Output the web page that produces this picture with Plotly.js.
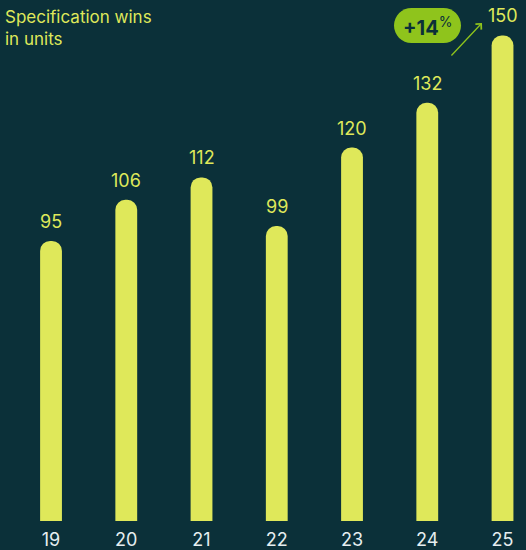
<!DOCTYPE html>
<html><head><meta charset="utf-8">
<script src="https://cdn.plot.ly/plotly-3.0.1.min.js"></script>
<style>html,body{margin:0;padding:0;background:#0b3039;}</style>
</head><body>
<div id="chart" style="width:526px;height:550px;"></div>
<script>
const years = ["19","20","21","22","23","24","25"];
const wins = [95,106,112,99,120,132,150];
const badgeText = "<b>+14</b><sup>%</sup>";
const titleText = "Specification wins<br>in units";

const W = 526, H = 550, B = 521;
const bg = "#0b3039", barColor = "#dfe85a", green = "#8fc41c";
const FONT = "Inter, 'Open Sans', sans-serif";
const px = x => x / W;
const py = y => (B - y) / B;

function pill(x0, x1, y0, y1) {
  const r = (y1 - y0) / 2, k = 0.5523 * r;
  const P = (x, y) => px(x).toFixed(5) + "," + py(y).toFixed(5);
  return "M" + P(x0 + r, y0) + " L" + P(x1 - r, y0) +
    " C" + P(x1 - r + k, y0) + " " + P(x1, y0 + r - k) + " " + P(x1, y0 + r) +
    " C" + P(x1, y0 + r + k) + " " + P(x1 - r + k, y1) + " " + P(x1 - r, y1) +
    " L" + P(x0 + r, y1) +
    " C" + P(x0 + r - k, y1) + " " + P(x0, y0 + r + k) + " " + P(x0, y0 + r) +
    " C" + P(x0, y0 + r - k) + " " + P(x0 + r - k, y0) + " " + P(x0 + r, y0) + " Z";
}

const idx = years.map((c, i) => i);

const trace = {
  type: "bar", x: idx, y: wins, width: 0.29,
  marker: { color: barColor, cornerradius: 11 },
  hoverinfo: "skip"
};

const labels = idx.map(i => ({
  x: i, y: wins[i], xref: "x", yref: "y", text: String(wins[i]),
  showarrow: false, yanchor: "bottom", yshift: 7,
  font: { family: FONT, size: 18, color: barColor }
}));

const layout = {
  width: W, height: H,
  paper_bgcolor: bg, plot_bgcolor: bg,
  margin: { l: 0, r: 0, t: 0, b: H - B },
  showlegend: false,
  font: { family: FONT },
  xaxis: {
    type: "linear", range: [-0.678, 6.312], showgrid: false, zeroline: false,
    showline: false, ticks: "", fixedrange: true,
    tickmode: "array", tickvals: idx, ticktext: years, ticklabelstandoff: 6,
    tickfont: { size: 18, color: "#e6eef0" }
  },
  yaxis: { range: [20, 159.5], visible: false, fixedrange: true },
  shapes: [
    { type: "path", xref: "paper", yref: "paper", path: pill(394, 461, 8, 43),
      fillcolor: green, line: { width: 0 } }
  ],
  annotations: labels.concat([
    { xref: "paper", yref: "paper", x: px(3), y: py(5), text: titleText,
      showarrow: false, xanchor: "left", yanchor: "top", align: "left",
      font: { family: FONT, size: 17, color: barColor } },
    { xref: "paper", yref: "paper", x: px(427), y: py(26), text: badgeText,
      showarrow: false, xanchor: "center", yanchor: "middle",
      font: { family: FONT, size: 20, color: bg } },
    { xref: "paper", yref: "paper", x: px(482), y: py(23), ax: -32, ay: 34,
      text: "", showarrow: true, arrowhead: 4, arrowsize: 1.2, arrowwidth: 1.3,
      arrowcolor: green }
  ])
};

Plotly.newPlot("chart", [trace], layout, { displayModeBar: false, staticPlot: true });
</script>
</body></html>
